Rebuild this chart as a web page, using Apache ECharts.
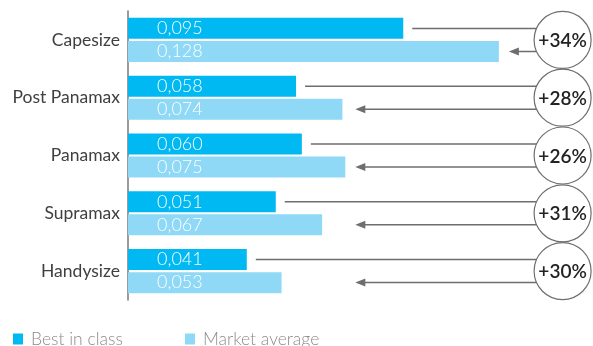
<!DOCTYPE html>
<html>
<head>
<meta charset="utf-8">
<script src="https://cdn.jsdelivr.net/npm/echarts@6/dist/echarts.min.js"></script>
<style>
  html, body { margin: 0; padding: 0; background: #fff; }
  #chart { width: 593px; height: 346px; }
</style>
</head>
<body>
<div id="chart"></div>
<script>
// Fuel efficiency per vessel class: best in class vs. market average
const categories = ['Capesize', 'Post Panamax', 'Panamax', 'Supramax', 'Handysize'];
const bestInClass = [0.095, 0.058, 0.060, 0.051, 0.041];
const marketAverage = [0.128, 0.074, 0.075, 0.067, 0.053];
const gapLabels = ['+34%', '+28%', '+26%', '+31%', '+30%'];
const seriesNames = ['Best in class', 'Market average'];

const DARK = '#00b9f2';
const LIGHT = '#8fd8f6';
const LINE = '#6e6e6e';
const BAR_W = 21;
const BAR_GAP = 2;
const ARROW_MIN = 0.075;   // arrows never stop short of this value

const fmt = v => v.toFixed(3).replace('.', ',');

// Connector lines from each bar pair to a circled percentage on the right
function renderGap(params, api) {
  const i = params.dataIndex;
  const cs = params.coordSys;
  const cy = api.coord([0, i])[1];
  const off = (BAR_W + BAR_GAP) / 2;
  const yTop = cy - off;
  const yBot = cy + off;
  const cx = cs.x + cs.width;
  const r = 28.5;
  const startX = api.coord([api.value(0), i])[0] + 9;
  const tipX = api.coord([Math.max(api.value(2), ARROW_MIN), i])[0] + 10;
  const lineStyle = { stroke: LINE, lineWidth: 1.5, fill: null };
  return {
    type: 'group',
    children: [
      { type: 'line', shape: { x1: startX, y1: yTop, x2: cx, y2: yTop }, style: lineStyle },
      { type: 'line', shape: { x1: tipX + 8, y1: yBot, x2: cx, y2: yBot }, style: lineStyle },
      { type: 'polygon', shape: { points: [[tipX, yBot], [tipX + 10, yBot - 4], [tipX + 10, yBot + 4]] },
        style: { fill: LINE } },
      { type: 'circle', shape: { cx: cx, cy: cy, r: r },
        style: { fill: '#fff', stroke: LINE, lineWidth: 1.2 } },
      { type: 'text', style: {
          text: gapLabels[i], x: cx, y: cy + 1, align: 'center', verticalAlign: 'middle',
          font: '600 19px Lato', fill: '#222' } }
    ]
  };
}

const barLabel = {
  show: true,
  position: [29, '50%'],
  verticalAlign: 'middle',
  color: '#fff',
  fontSize: 18,
  fontWeight: 300,
  fontFamily: 'Lato',
  formatter: p => fmt(p.value)
};

const chart = echarts.init(document.getElementById('chart'), null, { renderer: 'canvas' });
chart.setOption({
  animation: false,
  textStyle: { fontFamily: 'Lato' },
  grid: { left: 128, top: 11, height: 289, width: 434.6 },
  legend: {
    data: seriesNames,
    left: 8, top: 325,
    icon: 'rect',
    itemWidth: 10, itemHeight: 11, itemGap: 62,
    textStyle: { color: '#8c8c8c', fontSize: 17.5, fontWeight: 300, padding: [0, 0, 0, 3] }
  },
  xAxis: { type: 'value', min: 0, max: 0.15, show: false },
  yAxis: {
    type: 'category',
    inverse: true,
    data: categories,
    axisLine: { lineStyle: { color: '#7a7a7a', width: 1.5 } },
    axisTick: { show: false },
    axisLabel: { color: '#404040', fontSize: 17.5, fontWeight: 'normal', margin: 8 }
  },
  series: [
    { name: seriesNames[0], type: 'bar', data: bestInClass, barWidth: BAR_W, barGap: '10%',
      itemStyle: { color: DARK }, label: barLabel },
    { name: seriesNames[1], type: 'bar', data: marketAverage, barWidth: BAR_W,
      itemStyle: { color: LIGHT }, label: barLabel },
    { type: 'custom', clip: false, z: 5, silent: true,
      data: categories.map((c, i) => [bestInClass[i], i, marketAverage[i]]),
      encode: { x: 0, y: 1 },
      renderItem: renderGap }
  ]
});
</script>
</body>
</html>
